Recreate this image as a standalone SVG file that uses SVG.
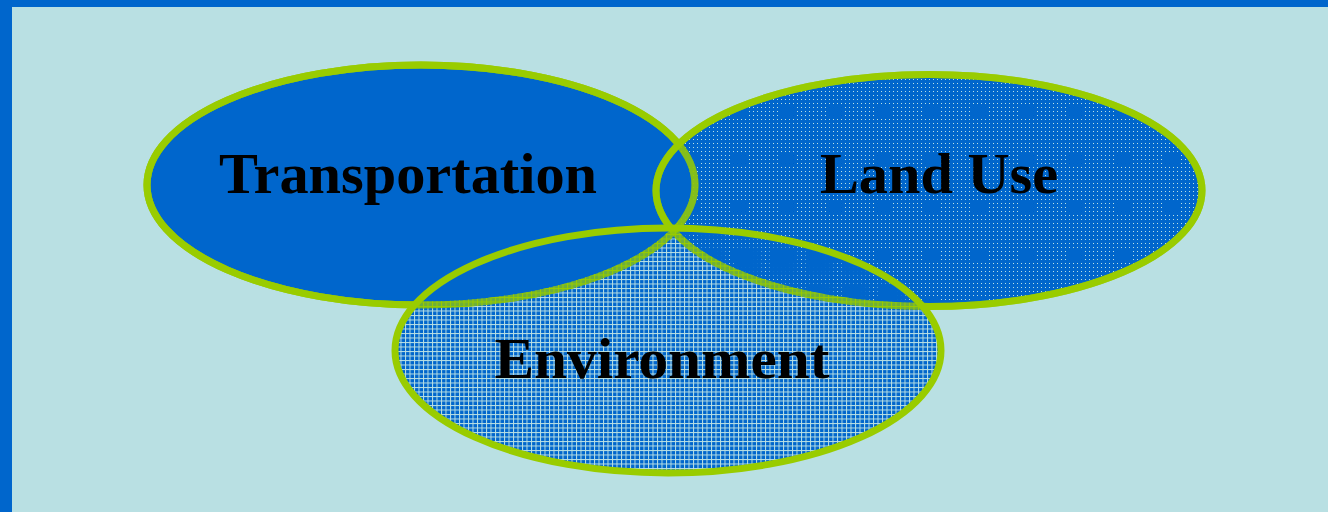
<svg xmlns="http://www.w3.org/2000/svg" width="1328" height="512" viewBox="0 0 1328 512">
  <style>
    .ring { fill: none; stroke: #99CC00; stroke-width: 7; }
    .under-lu { opacity: 0.5; }
    .under-env { opacity: 0.72; }
    .label { font-family: "Liberation Serif", "Times New Roman", serif; font-weight: bold; font-size: 58px; fill: #000; text-anchor: middle; }
  </style>
  <defs>
    <!-- blue fill pierced by tiny square holes -->
    <pattern id="dots" width="4" height="4" patternUnits="userSpaceOnUse" x="1" y="0">
      <rect x="0" y="0" width="4" height="3" fill="#0066CC"/>
      <rect x="1" y="3" width="3" height="1" fill="#0066CC"/>
    </pattern>
    <!-- coarse blocks where the dots vanish -->
    <pattern id="blocks" width="48" height="48" patternUnits="userSpaceOnUse" x="12" y="8">
      <rect x="0" y="0" width="15" height="15" fill="#0066CC"/>
    </pattern>
    <!-- blue fill with a thin see-through lattice -->
    <pattern id="lattice" width="4.5" height="4.5" patternUnits="userSpaceOnUse" x="0" y="0">
      <rect x="1" y="1" width="3.5" height="3.5" fill="#0066CC"/>
    </pattern>
    <ellipse id="ring-t" cx="421" cy="185" rx="274" ry="120"/>
    <ellipse id="ring-lu" cx="929" cy="190.5" rx="273" ry="116"/>
    <ellipse id="ring-e" cx="668" cy="350.5" rx="273" ry="122.5"/>
  </defs>

  <!-- slide background with blue frame -->
  <rect x="0" y="0" width="1328" height="512" fill="#0066CC"/>
  <rect x="12" y="7" width="1316" height="505" fill="#B9E0E3"/>

  <g id="transportation">
    <use href="#ring-t" fill="#0066CC"/>
    <use href="#ring-t" class="ring"/>
    <text x="408" y="193" class="label" textLength="378" lengthAdjust="spacingAndGlyphs">Transportation</text>
  </g>

  <g id="land-use">
    <use href="#ring-lu" fill="url(#dots)" shape-rendering="crispEdges"/>
    <use href="#ring-lu" fill="url(#blocks)" shape-rendering="crispEdges"/>
    <!-- transportation outline seen through the dotted fill -->
    <use href="#ring-t" class="ring under-lu"/>
    <use href="#ring-lu" class="ring"/>
    <text x="939" y="193" class="label" textLength="238" lengthAdjust="spacingAndGlyphs">Land Use</text>
  </g>

  <g id="environment">
    <use href="#ring-e" fill="url(#lattice)" shape-rendering="crispEdges"/>
    <!-- outlines beneath seen through the lattice -->
    <use href="#ring-t" class="ring under-env"/>
    <use href="#ring-lu" class="ring under-env"/>
    <use href="#ring-e" class="ring"/>
    <text x="662" y="378" class="label" textLength="335" lengthAdjust="spacingAndGlyphs">Environment</text>
  </g>
</svg>
